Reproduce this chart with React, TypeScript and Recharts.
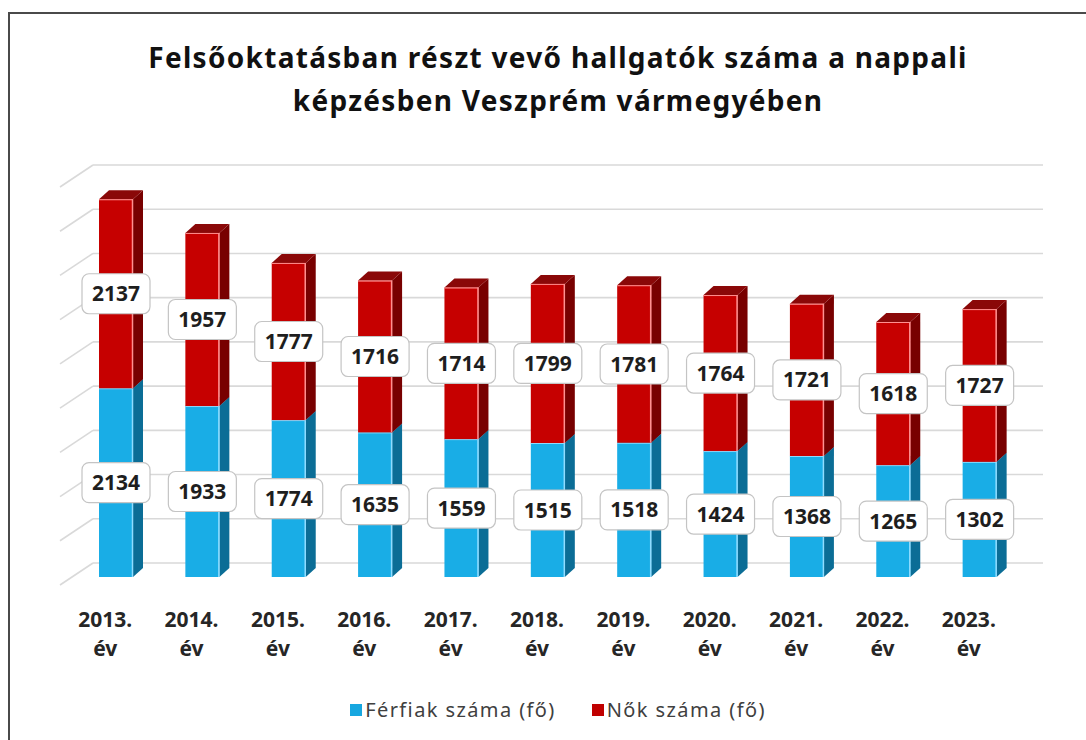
import { BarChart, Bar, XAxis, YAxis, CartesianGrid, LabelList, Legend } from "recharts";

const evek = ["2013. év", "2014. év", "2015. év", "2016. év", "2017. év", "2018. év", "2019. év", "2020. év", "2021. év", "2022. év", "2023. év"];
const ferfiak = [2134, 1933, 1774, 1635, 1559, 1515, 1518, 1424, 1368, 1265, 1302];
const nok = [2137, 1957, 1777, 1716, 1714, 1799, 1781, 1764, 1721, 1618, 1727];
const yTicks = [0, 500, 1000, 1500, 2000, 2500, 3000, 3500, 4000, 4500];

const adatok = evek.map((ev, i) => ({ ev, ferfiak: ferfiak[i], nok: nok[i] }));

const FONT = "'Noto Sans', 'Open Sans', sans-serif";
const DX = 10; // oszlop mélység
const DY = -9;

const makeBar3D = (front: string, side: string, top: string, edge: string) => (props: any) => {
  const { x, y, width, height } = props;
  if (height == null || width == null) return null;
  const r = x + width;
  const b = y + height;
  return (
    <g>
      <polygon points={`${r},${b} ${r},${y} ${r + DX},${y + DY} ${r + DX},${b + DY}`} fill={side} />
      <polygon points={`${x},${y} ${r},${y} ${r + DX},${y + DY} ${x + DX},${y + DY}`} fill={top} />
      <rect x={x} y={y} width={width} height={height} fill={front} />
      <line x1={r - 0.5} y1={y} x2={r - 0.5} y2={b} stroke={edge} strokeWidth={1.5} />
      <line x1={x} y1={y + 0.5} x2={r} y2={y + 0.5} stroke={edge} strokeWidth={1} />
    </g>
  );
};

const FerfiBar = makeBar3D("#19ade6", "#0b6d96", "#0f86b8", "#8fdcff");
const NoBar = makeBar3D("#c60000", "#780000", "#8a0808", "#ff9090");

const ErtekDoboz = (props: any) => {
  const vb = props.viewBox ?? props;
  const { x, y, width, height } = vb;
  const cx = x + width / 2;
  const cy = y + height / 2;
  return (
    <g>
      <rect x={cx - 34} y={cy - 20} width={68} height={40} rx={7} fill="#ffffff" stroke="#c4c4c4" strokeWidth={1.2} />
      <text x={cx} y={cy} dy="0.36em" textAnchor="middle" fontFamily={FONT} fontWeight={700} fontSize={21} fill="#1e1e1e">
        {props.value}
      </text>
    </g>
  );
};

const EvTick = (props: any) => {
  const { x, y, payload } = props;
  const [ev, szo] = String(payload.value).split(" ");
  const tx = x - 11;
  return (
    <text x={tx} y={y + 42} textAnchor="middle" fontFamily={FONT} fontWeight={700} fontSize={21} fill="#262626">
      <tspan x={tx}>{ev}</tspan>
      <tspan x={tx} dy={29}>{szo}</tspan>
    </text>
  );
};

const Racsvonal = (props: any) => {
  const { x1, x2, y1 } = props;
  return (
    <g key={props.key}>
      <line x1={x1 - 13} y1={y1 + 8} x2={x1 + 20} y2={y1 - 14} stroke="#d9d9d9" strokeWidth={1.6} />
      <line x1={x1 + 20} y1={y1 - 14} x2={x2 + 20} y2={y1 - 14} stroke="#d9d9d9" strokeWidth={1.6} />
    </g>
  );
};

const Jelmagyarazat = () => (
  <div style={{ display: "flex", justifyContent: "center", alignItems: "center", fontFamily: FONT, fontSize: 20, letterSpacing: 1.4, color: "#404040" }}>
    <span style={{ width: 12, height: 12, background: "#17a7e0", display: "inline-block", marginRight: 3 }} />
    <span style={{ marginRight: 36 }}>Férfiak száma (fő)</span>
    <span style={{ width: 12, height: 12, background: "#c00000", display: "inline-block", marginRight: 3 }} />
    <span>Nők száma (fő)</span>
  </div>
);

export default function App() {
  return (
    <div style={{ position: "absolute", left: 0, top: 0, width: 1086, height: 740, overflow: "hidden", background: "#fff" }}>
      <div style={{ position: "absolute", left: 8, top: 12, width: 1120, height: 780, border: "2px solid #4a4a4a", boxSizing: "border-box" }} />
      <div
        style={{
          position: "absolute",
          left: 30,
          width: 1056,
          top: 36,
          textAlign: "center",
          fontFamily: FONT,
          fontWeight: 700,
          fontSize: 28,
          letterSpacing: 1.3,
          lineHeight: "43px",
          color: "#111",
        }}
      >
        Felsőoktatásban részt vevő hallgatók száma a nappali
        <br />
        képzésben Veszprém vármegyében
      </div>
      <div style={{ position: "absolute", left: 0, top: 0 }}>
        <BarChart width={1086} height={740} data={adatok} margin={{ top: 179, right: 63, bottom: 103, left: 73 }} barSize={34}>
          <CartesianGrid vertical={false} horizontal={Racsvonal} />
          <YAxis domain={[0, 4500]} ticks={yTicks} interval={0} width={0} tick={() => null} axisLine={false} tickLine={false} />
          <XAxis dataKey="ev" height={60} axisLine={false} tickLine={false} interval={0} tick={<EvTick />} />
          <Bar dataKey="ferfiak" name="Férfiak száma (fő)" stackId="a" shape={FerfiBar} isAnimationActive={false}>
            <LabelList dataKey="ferfiak" content={<ErtekDoboz />} />
          </Bar>
          <Bar dataKey="nok" name="Nők száma (fő)" stackId="a" shape={NoBar} isAnimationActive={false}>
            <LabelList dataKey="nok" content={<ErtekDoboz />} />
          </Bar>
          <Legend
            layout="horizontal"
            verticalAlign="middle"
            align="center"
            content={<Jelmagyarazat />}
            wrapperStyle={{ position: "absolute", left: 30, width: 1056, top: 696 }}
          />
        </BarChart>
      </div>
    </div>
  );
}
